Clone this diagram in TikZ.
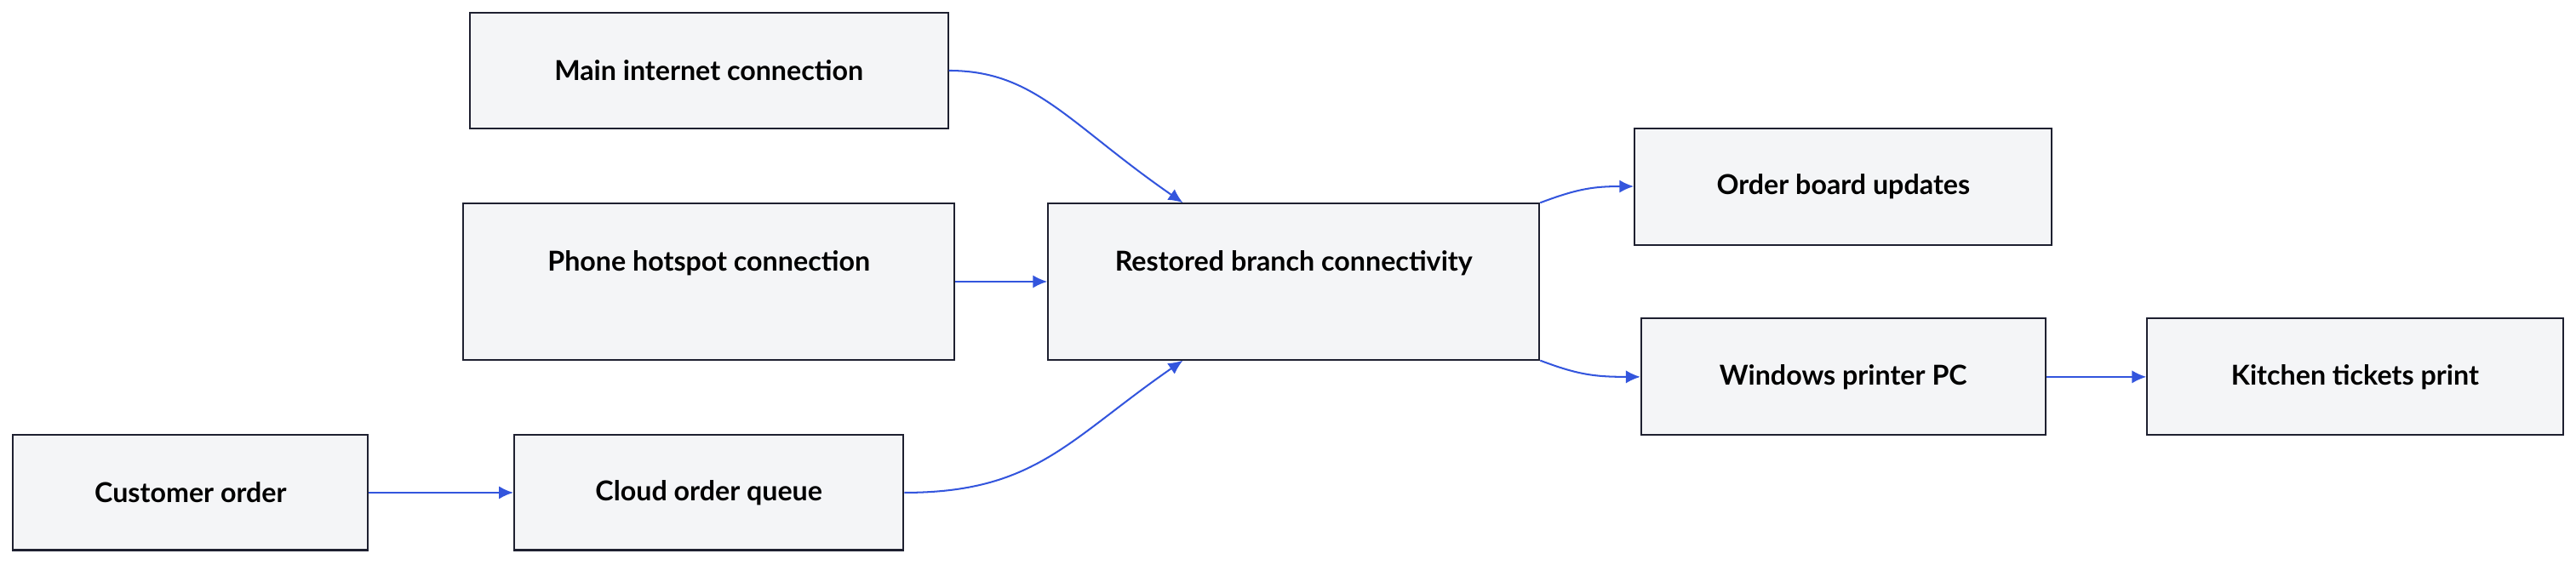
\documentclass[tikz,border=0pt]{standalone}
\usepackage{fontspec}
\setmainfont{Lato}
\usetikzlibrary{calc,arrows.meta}
\definecolor{boxfill}{HTML}{F4F5F7}
\definecolor{boxline}{HTML}{1E2030}
\definecolor{arr}{HTML}{3355DD}
\begin{document}
\begin{tikzpicture}[x=0.02cm,y=-0.02cm,
 box/.style={draw=boxline,fill=boxfill,line width=0.6pt,inner sep=0pt,font=\fontsize{9.5}{11}\selectfont\bfseries,text=black},
 ar/.style={draw=arr,line width=0.6pt,-{Latex[length=5pt,width=4.5pt]}}]
\useasboundingbox (0,0) rectangle (1568,344);
\node[box,minimum width=291*0.02cm,minimum height=70*0.02cm] (m) at (431.5,43) {Main internet connection};
\node[box,minimum width=299*0.02cm,minimum height=95*0.02cm] (p) at (431.5,171.5) {};
\node[font=\fontsize{9.5}{11}\selectfont\bfseries] (pt) at (431.5,160) {Phone hotspot connection};
\node[box,minimum width=299*0.02cm,minimum height=95*0.02cm] (r) at (787.5,171.5) {};
\node[font=\fontsize{9.5}{11}\selectfont\bfseries] (rt) at (787.5,160) {Restored branch connectivity};
\node[box,minimum width=254*0.02cm,minimum height=71*0.02cm] (o) at (1122,113.5) {Order board updates};
\node[box,minimum width=246*0.02cm,minimum height=71*0.02cm] (w) at (1122,229.5) {Windows printer PC};
\node[box,minimum width=253*0.02cm,minimum height=71*0.02cm] (k) at (1433.5,229.5) {Kitchen tickets print};
\node[box,minimum width=216*0.02cm,minimum height=70*0.02cm] (c) at (116,300) {Customer order};
\node[box,minimum width=237*0.02cm,minimum height=70*0.02cm] (q) at (431.5,300) {Cloud order queue};
\draw[ar] (m.east) .. controls (630,43) and (650,75) .. ($(r.north)+(-67.5,0)$);
\draw[ar] (p.east) -- (p.east -| r.west);
\draw[ar] (q.east) .. controls (630,300) and (650,268) .. ($(r.south)+(-67.5,0)$);
\draw[ar] (r.north east) .. controls (960,115) and (970,113.5) .. (o.west);
\draw[ar] (r.south east) .. controls (960,228) and (970,229.5) .. (w.west);
\draw[ar] (w.east) -- (k.west);
\draw[ar] (c.east) -- (q.west);
\end{tikzpicture}
\end{document}
